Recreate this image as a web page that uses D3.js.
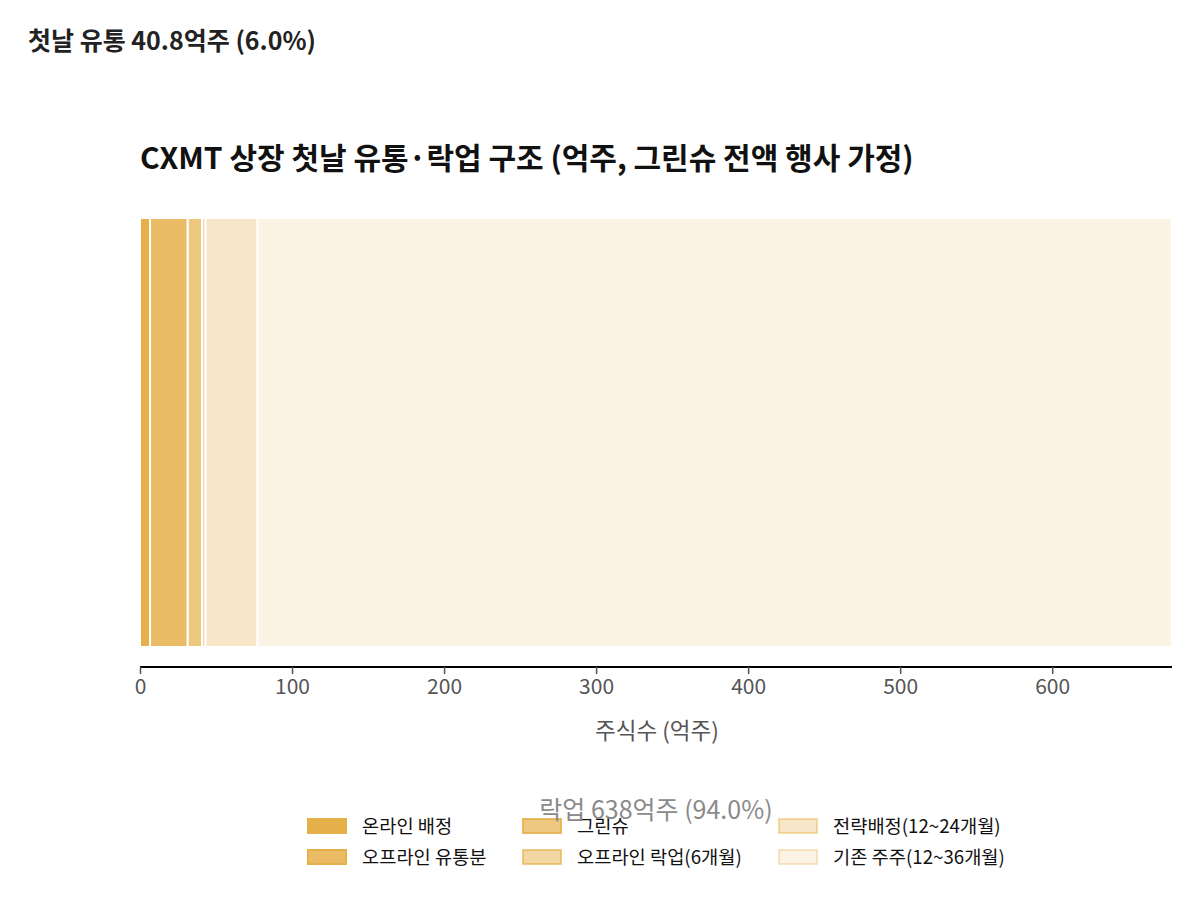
<!DOCTYPE html>
<html>
<head>
<meta charset="utf-8">
<script src="https://cdn.jsdelivr.net/npm/d3@7"></script>
<style>
  body { margin: 0; background: #fff; }
  svg, svg text { font-family: "Noto Sans CJK KR", "Noto Sans", sans-serif; }
  .tick text { fill: #555; font-size: 21px; font-family: "Noto Sans CJK KR", sans-serif; }
  .tick line { stroke: #555; }
</style>
</head>
<body>
<div id="wrapper"></div>
<script>
// segments of the share structure (억주)
const segmentNames = [
  "온라인 배정",
  "오프라인 유통분",
  "그린슈",
  "오프라인 락업(6개월)",
  "전략배정(12~24개월)",
  "기존 주주(12~36개월)"
]
const segmentValues = [6.6, 24.8, 9.4, 2.3, 34.2, 601.5]
const segmentOpacity = [1, 0.85, 0.7, 0.5, 0.3, 0.15]
const xTicks = [0, 100, 200, 300, 400, 500, 600]

function drawChart() {
  const baseColor = "#e5b04a"
  const total = d3.sum(segmentValues)
  const floatTotal = d3.sum(segmentValues.slice(0, 3))
  const lockTotal = total - floatTotal

  // stacked start / end for every segment
  let running = 0
  const stacked = segmentValues.map((v, i) => {
    const d = { name: segmentNames[i], start: running, end: running + v, opacity: segmentOpacity[i] }
    running += v
    return d
  })

  const dimensions = {
    width: 1199,
    height: 903,
    margin: { top: 218, right: 27, bottom: 256, left: 140 },
  }
  dimensions.boundedWidth = dimensions.width - dimensions.margin.left - dimensions.margin.right
  dimensions.boundedHeight = 429

  const svg = d3.select("#wrapper").append("svg")
    .attr("width", dimensions.width)
    .attr("height", dimensions.height)

  const bounds = svg.append("g")
    .attr("transform", `translate(${dimensions.margin.left},${dimensions.margin.top})`)

  const xScale = d3.scaleLinear()
    .domain([0, total])
    .range([0, dimensions.boundedWidth])

  const yScale = d3.scaleBand()
    .domain(["all"])
    .range([0, dimensions.boundedHeight])

  // bar segments
  bounds.selectAll(".seg")
    .data(stacked)
    .enter().append("rect")
      .attr("class", "seg")
      .attr("x", d => xScale(d.start))
      .attr("width", d => xScale(d.end) - xScale(d.start))
      .attr("y", yScale("all"))
      .attr("height", yScale.bandwidth())
      .attr("fill", baseColor)
      .attr("fill-opacity", d => d.opacity)
      .attr("stroke", "#fff")
      .attr("stroke-width", 2)

  // x axis
  const axisY = dimensions.boundedHeight + 20
  const xAxis = bounds.append("g")
    .attr("transform", `translate(0,${axisY})`)
    .call(d3.axisBottom(xScale).tickValues(xTicks).tickSize(7).tickPadding(5))
  xAxis.attr("font-family", null).attr("font-size", null)
  xAxis.select(".domain").attr("stroke", "#000").attr("stroke-width", 2)
    .attr("d", `M0,0H${dimensions.boundedWidth}`)
  xAxis.selectAll(".tick line").attr("stroke-width", 1.5)

  bounds.append("text")
    .attr("x", xScale(340))
    .attr("y", axisY + 72)
    .attr("text-anchor", "middle")
    .attr("fill", "#555")
    .style("font-size", "22.5px")
    .text("주식수 (억주)")

  // title
  svg.append("text")
    .attr("x", 140)
    .attr("y", 169)
    .style("font-size", "30px")
    .style("font-weight", "bold")
    .attr("fill", "#111")
    .text("CXMT 상장 첫날 유통·락업 구조 (억주, 그린슈 전액 행사 가정)")

  // annotations
  svg.append("text")
    .attr("x", 28)
    .attr("y", 50)
    .style("font-size", "25px")
    .style("font-weight", "bold")
    .attr("fill", "#222")
    .text(`첫날 유통 ${floatTotal.toFixed(1)}억주 (${(floatTotal / total * 100).toFixed(1)}%)`)

  // legend (column-major, 3 columns x 2 rows)
  const legendCols = [307, 522, 778]
  const legendRows = [826, 857]
  const legend = svg.append("g")
  const items = legend.selectAll(".legend-item")
    .data(stacked)
    .enter().append("g")
      .attr("class", "legend-item")
      .attr("transform", (d, i) => `translate(${legendCols[Math.floor(i / 2)]},${legendRows[i % 2]})`)
  items.append("rect")
    .attr("x", 1)
    .attr("y", -7)
    .attr("width", 38)
    .attr("height", 14)
    .attr("fill", baseColor)
    .attr("fill-opacity", d => d.opacity)
    .attr("stroke", baseColor)
    .attr("stroke-opacity", d => Math.min(1, d.opacity + 0.15))
    .attr("stroke-width", 2)
  items.append("text")
    .attr("x", 55)
    .attr("y", 6.5)
    .style("font-size", "18.7px")
    .attr("fill", "#111")
    .text(d => d.name)

  svg.append("text")
    .attr("x", 656)
    .attr("y", 819)
    .attr("text-anchor", "middle")
    .style("font-size", "25px")
    .attr("fill", "#8a8a8a")
    .text(`락업 ${Math.round(lockTotal)}억주 (${(lockTotal / total * 100).toFixed(1)}%)`)
}
drawChart()
</script>
</body>
</html>
